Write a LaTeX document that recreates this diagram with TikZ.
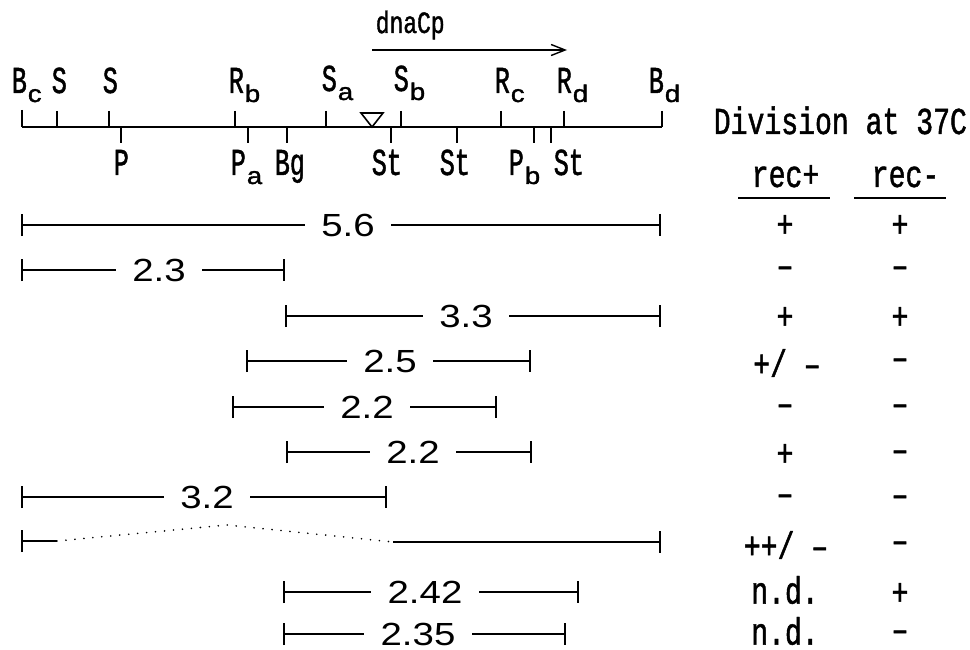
\documentclass[tikz,border=0pt]{standalone}
\usepackage{fontspec}
\usetikzlibrary{arrows.meta}
\newfontfamily\mapfnt[FakeStretch=0.66, FakeBold=1.2]{Liberation Mono}
\newfontfamily\tabfnt[FakeStretch=0.74, FakeBold=1.2]{Liberation Mono}
\newfontfamily\numfnt[FakeStretch=1.2]{Liberation Sans}
\newfontfamily\subfnt[FakeStretch=1.15, FakeBold=1.5]{Liberation Sans}
\newcommand\lsub[1]{\kern1pt\raisebox{-9pt}{\fontsize{24}{24}\selectfont\subfnt #1}}

\begin{document}
\begin{tikzpicture}[x=1pt, y=-1pt, line width=1.6pt,
	   lab/.style={font=\fontsize{38}{38}\selectfont\mapfnt, inner sep=0pt, anchor=base west},
	   len/.style={font=\fontsize{32}{32}\selectfont\numfnt, inner xsep=16pt, inner ysep=0pt},
	   tab/.style={font=\fontsize{38}{38}\selectfont\tabfnt, inner sep=0pt},
	   bar/.style={{Bar[width=22pt]}-}, rbar/.style={-{Bar[width=22pt]}},
	   dots/.style={line width=1.8pt, line cap=round, dash pattern=on 0pt off 9pt}]
	  \useasboundingbox (0,0) rectangle (970,650);
	  % restriction map
	  \coordinate (Bc) at (22,127); \coordinate (Bd) at (662,127);
	  \draw (Bc) -- (Bd);
	  \draw (22,110)--(22,127); \draw (57,111)--(57,127); \draw (109,111)--(109,127); \draw (235,111)--(235,127);
	  \draw (326,111)--(326,127); \draw (401,111)--(401,127); \draw (501,111)--(501,127); \draw (564,111)--(564,127);
	  \draw (662,111)--(662,127);
	  \draw (121,127)--(121,143); \draw (248,127)--(248,143); \draw (287,127)--(287,143); \draw (391,127)--(391,143);
	  \draw (457,127)--(457,143); \draw (534,127)--(534,143); \draw (551,127)--(551,143);
	  \draw (361,113) -- (383,113) -- (372,127) -- cycle;
	  \node[lab] (lBc) at (11,93) {B\lsub{c}};
	  \node[lab] (lS1) at (51,93) {S};
	  \node[lab] (lS2) at (102,93) {S};
	  \node[lab] (lRb) at (228,93) {R\lsub{b}};
	  \node[lab] (lSa) at (321,91) {S\lsub{a}};
	  \node[lab] (lSb) at (393,91) {S\lsub{b}};
	  \node[lab] (lRc) at (494,93) {R\lsub{c}};
	  \node[lab] (lRd) at (556,93) {R\lsub{d}};
	  \node[lab] (lBd) at (648,93) {B\lsub{d}};
	  \node[lab] (lP) at (113,175) {P};
	  \node[lab] (lPa) at (230,175) {P\lsub{a}};
	  \node[lab] (lBg) at (274,175) {Bg};
	  \node[lab] (lSt1) at (371,175) {St};
	  \node[lab] (lSt2) at (439,175) {St};
	  \node[lab] (lPb) at (508,175) {P\lsub{b}};
	  \node[lab] (lSt3) at (553,175) {St};
	  \node[lab, font=\fontsize{31}{31}\selectfont\tabfnt] (dna) at (375,33) {dnaCp};
	  \coordinate (a0) at (372,50); \coordinate (a1) at (567,50);
	  \draw[line width=1.4pt, -{Straight Barb[length=14pt,width=11pt]}] (a0) -- (a1);
	  % fragments
	  \coordinate (l1) at (21,225); \coordinate (r1) at (661,225); \node[len] (n1) at (348,225) {5.6};
	  \coordinate (l2) at (21,270); \coordinate (r2) at (285,270); \node[len] (n2) at (159,270) {2.3};
	  \coordinate (l3) at (285,316); \coordinate (r3) at (661,316); \node[len] (n3) at (466,316) {3.3};
	  \coordinate (l4) at (246,361); \coordinate (r4) at (531,361); \node[len] (n4) at (390,361) {2.5};
	  \coordinate (l5) at (232,407); \coordinate (r5) at (497,407); \node[len] (n5) at (367,407) {2.2};
	  \coordinate (l6) at (286,452); \coordinate (r6) at (532,452); \node[len] (n6) at (413,452) {2.2};
	  \coordinate (l7) at (21,497); \coordinate (r7) at (387,497); \node[len] (n7) at (207,497) {3.2};
	  \coordinate (l9) at (283,592); \coordinate (r9) at (579,592); \node[len] (n9) at (425,592) {2.42};
	  \coordinate (l10) at (283,634); \coordinate (r10) at (566,634); \node[len] (n10) at (418,634) {2.35};
	  \draw[bar] (l1)--(n1); \draw[rbar] (n1)--(r1); \draw[bar] (l2)--(n2); \draw[rbar] (n2)--(r2);
	  \draw[bar] (l3)--(n3); \draw[rbar] (n3)--(r3); \draw[bar] (l4)--(n4); \draw[rbar] (n4)--(r4);
	  \draw[bar] (l5)--(n5); \draw[rbar] (n5)--(r5); \draw[bar] (l6)--(n6); \draw[rbar] (n6)--(r6);
	  \draw[bar] (l7)--(n7); \draw[rbar] (n7)--(r7); \draw[bar] (l9)--(n9); \draw[rbar] (n9)--(r9);
	  \draw[bar] (l10)--(n10); \draw[rbar] (n10)--(r10);
	  \coordinate (l8) at (21,541); \coordinate (p8) at (57,541); \coordinate (k8) at (227,525);
	  \coordinate (q8) at (393,542); \coordinate (r8) at (661,542);
	  \draw[bar] (l8)--(p8); \draw[dots] (p8)--(k8)--(q8); \draw[rbar] (q8)--(r8);
	  % division table
	  \node[tab, anchor=base west] (div) at (713,134) {Division at 37C};
	  \node[tab, anchor=base west] (recp) at (751,187) {rec+};
	  \node[tab, anchor=base west] (recm) at (871,187) {rec-};
	  \coordinate (u1) at (738,198); \coordinate (u2) at (830,198); \coordinate (u3) at (854,198); \coordinate (u4) at (946,198);
	  \draw (u1)--(u2); \draw (u3)--(u4);
	  \node[tab] (p1) at (785,226) {+};     \node[tab] (m1) at (900,226) {+};
	  \node[tab] (p2) at (785,272) {–};     \node[tab] (m2) at (900,272) {–};
	  \node[tab] (p3) at (785,318) {+};     \node[tab] (m3) at (900,318) {+};
	  \node[tab] (p4) at (787,363) {+/ –};  \node[tab] (m4) at (900,364) {–};
	  \node[tab] (p5) at (785,410) {–};     \node[tab] (m5) at (900,410) {–};
	  \node[tab] (p6) at (785,455) {+};     \node[tab] (m6) at (900,456) {–};
	  \node[tab] (p7) at (785,500) {–};     \node[tab] (m7) at (900,501) {–};
	  \node[tab] (p8) at (786,545) {++/ –}; \node[tab] (m8) at (900,547) {–};
	  \node[tab] (p9) at (785,590) {n.d.};  \node[tab] (m9) at (900,594) {+};
	  \node[tab] (p10) at (785,631) {n.d.}; \node[tab] (m10) at (900,636) {–};
	\end{tikzpicture}
\end{document}
